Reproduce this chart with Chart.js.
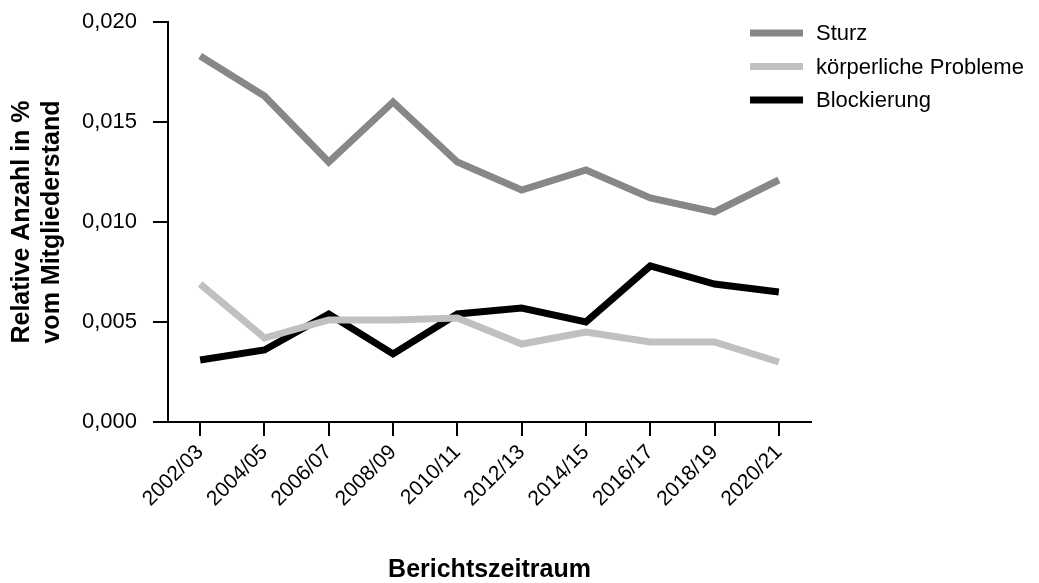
<!DOCTYPE html>
<html>
<head>
<meta charset="utf-8">
<script src="https://cdn.jsdelivr.net/npm/chart.js@4/dist/chart.umd.min.js"></script>
<style>
  html, body { margin: 0; padding: 0; background: #fff; }
  #wrap { width: 1039px; height: 583px; }
</style>
</head>
<body>
<div id="wrap"><canvas id="chart" width="1039" height="583"></canvas></div>
<script>
// Daten
let categories = ['2002/03', '2004/05', '2006/07', '2008/09', '2010/11', '2012/13', '2014/15', '2016/17', '2018/19', '2020/21'];
let sturz = [0.0183, 0.0163, 0.0130, 0.0160, 0.0130, 0.0116, 0.0126, 0.0112, 0.0105, 0.0121];
let koerperlich = [0.0069, 0.0042, 0.0051, 0.0051, 0.0052, 0.0039, 0.0045, 0.0040, 0.0040, 0.0030];
let blockierung = [0.0031, 0.0036, 0.0054, 0.0034, 0.0054, 0.0057, 0.0050, 0.0078, 0.0069, 0.0065];
let seriesNames = ['Sturz', 'körperliche Probleme', 'Blockierung'];
let yTicks = [0, 0.005, 0.010, 0.015, 0.020];

let fontFamily = '"Liberation Sans", Arial, Helvetica, sans-serif';

// Legende oben rechts, wie im Original
let legendPlugin = {
    id: 'customLegend',
    afterDraw(chart) {
        let ctx = chart.ctx;
        ctx.save();
        ctx.font = '22px ' + fontFamily;
        ctx.textBaseline = 'middle';
        ctx.fillStyle = '#000';
        chart.data.datasets.forEach((ds, i) => {
            let y = 33 + i * 33.5;
            ctx.strokeStyle = ds.borderColor;
            ctx.lineWidth = 7;
            ctx.beginPath();
            ctx.moveTo(750, y);
            ctx.lineTo(803, y);
            ctx.stroke();
            ctx.fillText(ds.label, 816, y + 1);
        });
        ctx.restore();
    }
};

let ctx = document.getElementById('chart').getContext('2d');
new Chart(ctx, {
    type: 'line',
    data: {
        labels: categories,
        datasets: [
            { label: seriesNames[0], data: sturz, borderColor: '#878787' },
            { label: seriesNames[1], data: koerperlich, borderColor: '#c0c0c0' },
            { label: seriesNames[2], data: blockierung, borderColor: '#000000' }
        ]
    },
    options: {
        responsive: false,
        animation: false,
        layout: { padding: { top: 22, right: 228, bottom: 0, left: 0 } },
        elements: {
            line: { borderWidth: 7, tension: 0, borderJoinStyle: 'miter', borderCapStyle: 'butt' },
            point: { radius: 0 }
        },
        plugins: {
            legend: { display: false },
            tooltip: { enabled: false }
        },
        scales: {
            x: {
                offset: true,
                afterFit: scale => { scale.height = 161; },
                border: { display: true, color: '#000', width: 2 },
                grid: { display: true, drawOnChartArea: false, drawTicks: true, tickLength: 14, color: '#000', lineWidth: 2, offset: false },
                ticks: {
                    color: '#000',
                    font: { family: fontFamily, size: 21 },
                    minRotation: 45,
                    maxRotation: 45,
                    padding: 4,
                    autoSkip: false
                },
                title: {
                    display: true,
                    text: 'Berichtszeitraum',
                    color: '#000',
                    font: { family: fontFamily, size: 25, weight: 'bold', lineHeight: 1 },
                    padding: { top: 0, bottom: 0 }
                }
            },
            y: {
                min: 0,
                max: 0.02,
                afterFit: scale => {
                    scale.width = 168;
                    scale.paddingTop = 0;
                    scale.paddingBottom = 0;
                },
                afterBuildTicks: scale => { scale.ticks = yTicks.map(v => ({ value: v })); },
                border: { display: true, color: '#000', width: 2 },
                grid: { display: true, drawOnChartArea: false, drawTicks: true, tickLength: 15, color: '#000', lineWidth: 2 },
                ticks: {
                    color: '#000',
                    font: { family: fontFamily, size: 22 },
                    padding: 16,
                    callback: v => v.toFixed(3).replace('.', ',')
                },
                title: {
                    display: true,
                    text: ['Relative Anzahl in %', 'vom Mitgliederstand'],
                    color: '#000',
                    font: { family: fontFamily, size: 25, weight: 'bold', lineHeight: 1.2 },
                    padding: { top: 7, bottom: 0 }
                }
            }
        }
    },
    plugins: [legendPlugin]
});
</script>
</body>
</html>
